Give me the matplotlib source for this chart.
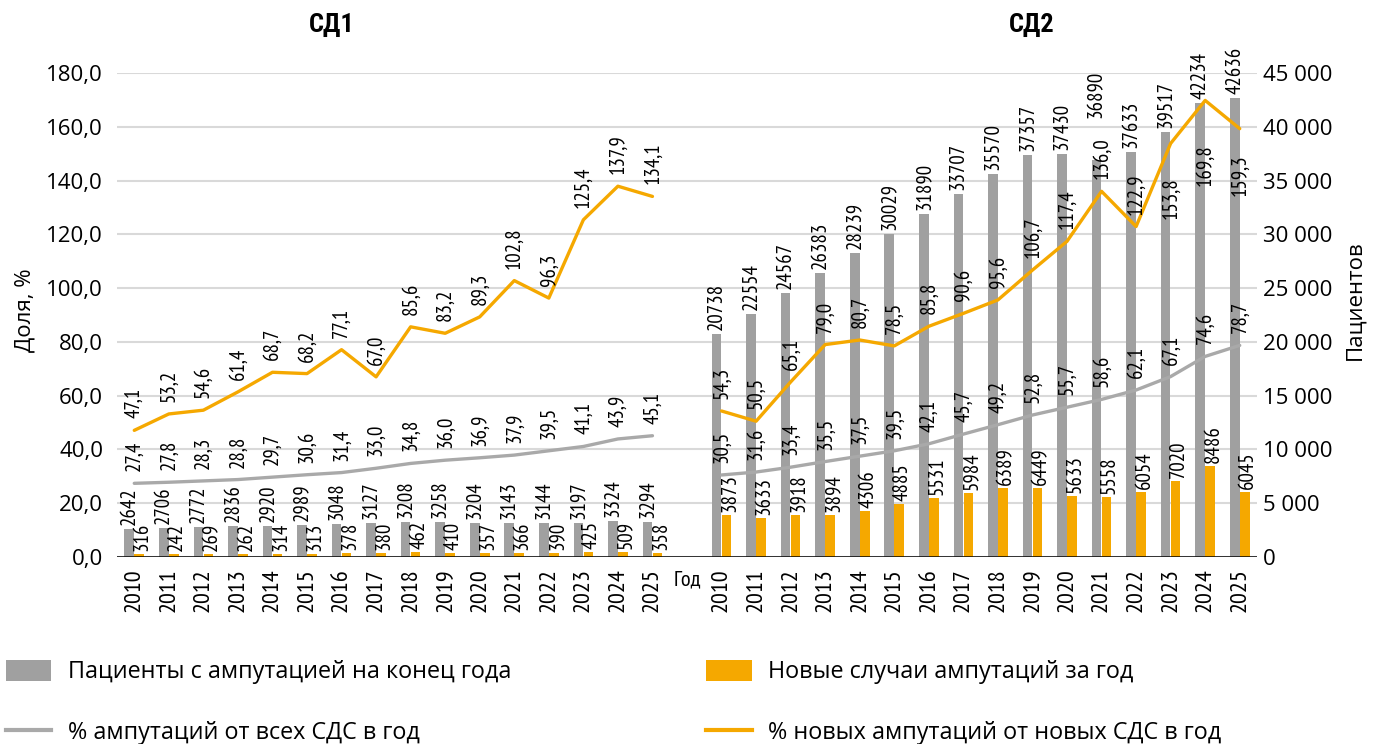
import matplotlib
matplotlib.use("Agg")
import matplotlib.pyplot as plt
import numpy as np
from matplotlib.patches import Patch
from matplotlib.lines import Line2D

plt.rcParams['font.family'] = ['Open Sans', 'DejaVu Sans']

years = [str(y) for y in range(2010, 2026)]

# СД1
sd1_patients = [2642, 2706, 2772, 2836, 2920, 2989, 3048, 3127, 3208, 3258, 3204, 3143, 3144, 3197, 3324, 3294]
sd1_new = [316, 242, 269, 262, 314, 313, 378, 380, 462, 410, 357, 366, 390, 425, 509, 358]
sd1_pct_all = [27.4, 27.8, 28.3, 28.8, 29.7, 30.6, 31.4, 33.0, 34.8, 36.0, 36.9, 37.9, 39.5, 41.1, 43.9, 45.1]
sd1_pct_new = [47.1, 53.2, 54.6, 61.4, 68.7, 68.2, 77.1, 67.0, 85.6, 83.2, 89.3, 102.8, 96.3, 125.4, 137.9, 134.1]

# СД2
sd2_patients = [20738, 22554, 24567, 26383, 28239, 30029, 31890, 33707, 35570, 37357, 37430, 36890, 37633, 39517, 42234, 42636]
sd2_new = [3873, 3633, 3918, 3894, 4306, 4885, 5531, 5984, 6389, 6449, 5633, 5558, 6054, 7020, 8486, 6045]
sd2_pct_all = [30.5, 31.6, 33.4, 35.5, 37.5, 39.5, 42.1, 45.7, 49.2, 52.8, 55.7, 58.6, 62.1, 67.1, 74.6, 78.7]
sd2_pct_new = [54.3, 50.5, 65.1, 79.0, 80.7, 78.5, 85.8, 90.6, 95.6, 106.7, 117.4, 136.0, 122.9, 153.8, 169.8, 159.3]

group_titles = ["СД1", "СД2"]
legend_labels = ["Пациенты с ампутацией на конец года", "% ампутаций от всех СДС в год",
                 "Новые случаи ампутаций за год", "% новых ампутаций от новых СДС в год"]

C_GRAY_BAR = "#A0A0A0"
C_ORANGE = "#F5A800"
C_GRAY_LINE = "#A9A9A9"
C_GRID = "#D9D9D9"
NARROW = ['PT Sans Narrow', 'Roboto Condensed', 'DejaVu Sans']

fig = plt.figure(figsize=(13.75, 7.44), dpi=100)
ax = fig.add_axes([117 / 1375, 1 - 557 / 744, 1140 / 1375, 484 / 744])
ax2 = ax.twinx()

n = len(years)
x1 = np.arange(n)
x2 = np.arange(n) + n + 1
gap_x = n

bw = 0.28
off = 0.145
LAB = dict(family=NARROW, fontsize=15)
PX = 72 / 100  # points per pixel

# label placement tweaks (pixel offsets) as in the original layout
bar_label_dy = {(1, 11): 42}
line_label_below = {(1, 13): 34, (1, 14): 44, (1, 15): 26}

groups = [(x1, sd1_patients, sd1_new, sd1_pct_all, sd1_pct_new),
          (x2, sd2_patients, sd2_new, sd2_pct_all, sd2_pct_new)]

ax2.set_ylim(0, 45000)
ax.set_ylim(0, 180)
ax.set_xlim(-0.5, 2 * n + 0.5)

ax2.set_yticks(np.arange(0, 45001, 5000))
ax2.set_yticklabels([f"{v:,}".replace(',', ' ') for v in range(0, 45001, 5000)], fontsize=16)
ax2.yaxis.grid(True, color=C_GRID, lw=1.5, zorder=0)
ax2.set_axisbelow(True)

for g, (xs, pat, new, pall, pnew) in enumerate(groups):
    ax2.bar(xs - off, pat, width=bw, color=C_GRAY_BAR, zorder=2)
    ax2.bar(xs + off, new, width=bw, color=C_ORANGE, zorder=2)
    for i, (xx, v) in enumerate(zip(xs, pat)):
        dy = bar_label_dy.get((g, i), 4) * PX
        ax2.annotate(str(v), (xx - off, v), xytext=(0, dy), textcoords='offset points',
                     rotation=90, ha='center', va='bottom', zorder=6, **LAB)
    for xx, v in zip(xs, new):
        ax2.annotate(str(v), (xx + off, v), xytext=(3 * PX, 3 * PX), textcoords='offset points',
                     rotation=90, ha='center', va='bottom', zorder=6, **LAB)

ax.set_zorder(ax2.get_zorder() + 1)
ax.patch.set_visible(False)

for g, (xs, pat, new, pall, pnew) in enumerate(groups):
    ax.plot(xs, pall, color=C_GRAY_LINE, lw=2.4, zorder=4, solid_capstyle='round')
    ax.plot(xs, pnew, color=C_ORANGE, lw=2.4, zorder=5, solid_capstyle='round')
    for xx, v in zip(xs, pall):
        ax.annotate(f"{v:.1f}".replace('.', ','), (xx, v), xytext=(0, 12 * PX), textcoords='offset points',
                    rotation=90, ha='center', va='bottom', zorder=6, **LAB)
    for i, (xx, v) in enumerate(zip(xs, pnew)):
        if (g, i) in line_label_below:
            ax.annotate(f"{v:.1f}".replace('.', ','), (xx, v),
                        xytext=(0, -line_label_below[(g, i)] * PX), textcoords='offset points',
                        rotation=90, ha='center', va='top', zorder=6, **LAB)
        else:
            ax.annotate(f"{v:.1f}".replace('.', ','), (xx, v), xytext=(0, 12 * PX), textcoords='offset points',
                        rotation=90, ha='center', va='bottom', zorder=6, **LAB)

ax.set_yticks(np.arange(0, 181, 20))
ax.set_yticklabels([f"{v:.1f}".replace('.', ',') for v in np.arange(0, 181, 20)], fontsize=16)

ax.set_xticks(list(x1) + list(x2))
ax.set_xticklabels(years + years, rotation=90, fontsize=17.5, family=NARROW)
ax.tick_params(axis='x', length=0, pad=8)
ax.tick_params(axis='y', length=0, pad=10)
ax2.tick_params(axis='y', length=0, pad=4)
ax.text(gap_x, -5, "Год", ha='center', va='top', fontsize=16, family=NARROW)

for a in (ax, ax2):
    for s in ['top', 'left', 'right', 'bottom']:
        a.spines[s].set_visible(False)
ax.axhline(0, color='black', lw=1.8, zorder=7)

TITLE = ['Roboto Condensed', 'DejaVu Sans']
fig.text(332 / 1375, 1 - 25 / 744, group_titles[0], ha='center', va='center', fontsize=19,
         fontweight='bold', family=TITLE)
fig.text(1032 / 1375, 1 - 25 / 744, group_titles[1], ha='center', va='center', fontsize=19,
         fontweight='bold', family=TITLE)
fig.text(25 / 1375, 1 - 310 / 744, "Доля, %", rotation=90, ha='center', va='center', fontsize=16)
fig.text(1355 / 1375, 1 - 300 / 744, "Пациентов", rotation=90, ha='center', va='center', fontsize=16)

h_bar_gray = Patch(facecolor=C_GRAY_BAR)
h_line_gray = Line2D([], [], color=C_GRAY_LINE, lw=3)
h_bar_or = Patch(facecolor=C_ORANGE)
h_line_or = Line2D([], [], color=C_ORANGE, lw=3)

common = dict(frameon=False, fontsize=16.8, handlelength=1.95, handleheight=1.0, handletextpad=0.7,
              labelspacing=1.55, borderpad=0, borderaxespad=0, loc='upper left')
fig.legend([h_bar_gray, h_line_gray], legend_labels[:2], bbox_to_anchor=(6 / 1375, 1 - 660 / 744), **common)
fig.legend([h_bar_or, h_line_or], legend_labels[2:], bbox_to_anchor=(706 / 1375, 1 - 660 / 744), **common)

fig.savefig("out.png", dpi=100)
